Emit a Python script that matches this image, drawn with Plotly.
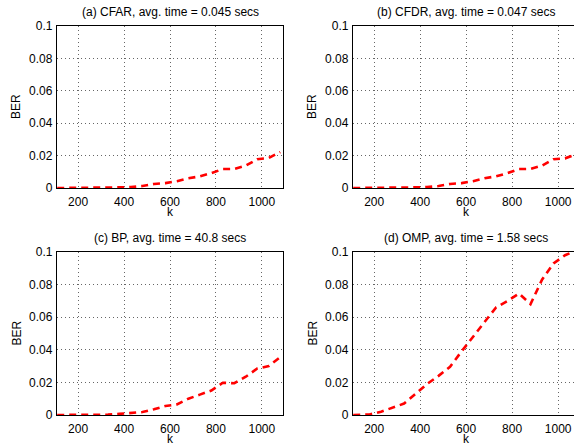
import plotly.graph_objects as go

k = [109, 130, 180, 230, 280, 330, 380, 430, 480, 530, 580, 630, 680, 730, 780, 830, 880, 930, 980, 1030, 1080]
ber_cfar = [0, 0, 0, 0, 0, 0.0002, 0.0004, 0.0006, 0.0012, 0.0025, 0.003, 0.0042, 0.006, 0.0072, 0.0092, 0.0117, 0.0118, 0.0138, 0.0178, 0.0185, 0.0222]
ber_cfdr = [0, 0, 0, 0, 0, 0.0002, 0.0004, 0.0006, 0.0012, 0.0025, 0.003, 0.0042, 0.006, 0.0072, 0.0092, 0.0117, 0.0118, 0.0138, 0.0178, 0.0183, 0.0208]
ber_bp = [0, 0, 0, 0, 0, 0.0002, 0.0007, 0.0012, 0.0018, 0.0035, 0.0055, 0.0065, 0.01, 0.0125, 0.015, 0.0198, 0.0195, 0.0235, 0.0285, 0.03, 0.0355]
ber_omp = [0, 0, 0.0003, 0.002, 0.0045, 0.007, 0.013, 0.019, 0.024, 0.0296, 0.039, 0.048, 0.057, 0.066, 0.070, 0.0745, 0.068, 0.083, 0.093, 0.098, 0.101]

titles = ["(a) CFAR, avg. time = 0.045 secs", "(b) CFDR, avg. time = 0.047 secs",
          "(c) BP, avg. time = 40.8 secs", "(d) OMP, avg. time = 1.58 secs"]
series = [ber_cfar, ber_cfdr, ber_bp, ber_omp]
x_ticks = [200, 400, 600, 800, 1000]
y_ticks = [0, 0.02, 0.04, 0.06, 0.08, 0.1]
y_tick_text = ["0", "0.02", "0.04", "0.06", "0.08", "0.1"]

W, H = 574, 444
FONT = "Liberation Sans, Arial, Helvetica, sans-serif"

# panel pixel boxes: (left, right, top, bottom)
boxes = [(57, 283, 26, 188), (353, 574, 26, 188), (57, 283, 252, 415), (353, 574, 252, 415)]
xranges = [[108, 1092], [108, 1069], [108, 1092], [108, 1069]]

fig = go.Figure()
annotations = []
for i in range(4):
    l, r, t, b = boxes[i]
    xa = "x" if i == 0 else f"x{i+1}"
    ya = "y" if i == 0 else f"y{i+1}"
    fig.add_trace(go.Scatter(x=k, y=series[i], mode="lines", xaxis=xa, yaxis=ya,
                             line=dict(color="#ff0000", width=2.6, dash="7px,5px"),
                             showlegend=False, hoverinfo="skip"))
    right_side = (i % 2 == 1)
    xkey = "xaxis" if i == 0 else f"xaxis{i+1}"
    ykey = "yaxis" if i == 0 else f"yaxis{i+1}"
    fig.layout[xkey] = dict(domain=[l / W, r / W], range=xranges[i], anchor=ya,
                            tickvals=x_ticks, ticks="", showline=True, mirror=True,
                            linecolor="black", linewidth=1.3, showgrid=True,
                            gridcolor="#666", gridwidth=1, griddash="1px,3px",
                            automargin=False, ticklabelstandoff=2,
                            zeroline=False, tickfont=dict(family=FONT, size=12, color="black"))
    fig.layout[ykey] = dict(domain=[1 - b / H, 1 - t / H], range=[0, 0.1], anchor=xa,
                            tickvals=y_ticks, ticktext=y_tick_text, ticks="",
                            showline=True, mirror=(not right_side),
                            linecolor="black", linewidth=1.3, showgrid=True,
                            gridcolor="#666", gridwidth=1, griddash="1px,3px",
                            automargin=False, ticklabelstandoff=1,
                            zeroline=False, tickfont=dict(family=FONT, size=12, color="black"))
    cx = (l + (r if not right_side else 579)) / 2
    annotations.append(dict(text=titles[i], x=cx / W, y=1 - (t - 14) / H, xref="paper", yref="paper",
                            xanchor="center", yanchor="middle", showarrow=False,
                            font=dict(family=FONT, size=12, color="black")))
    annotations.append(dict(text="k", x=cx / W, y=1 - (b + 24) / H, xref="paper", yref="paper",
                            xanchor="center", yanchor="middle", showarrow=False,
                            font=dict(family=FONT, size=12, color="black")))
    annotations.append(dict(text="BER", x=(l - 41) / W, y=1 - ((t + b) / 2) / H, xref="paper", yref="paper",
                            xanchor="center", yanchor="middle", showarrow=False, textangle=-90,
                            font=dict(family=FONT, size=12, color="black")))

fig.update_layout(width=W, height=H, margin=dict(l=0, r=0, t=0, b=0, autoexpand=False),
                  paper_bgcolor="white", plot_bgcolor="white", annotations=annotations,
                  font=dict(family=FONT, size=12, color="black"))
fig.write_html("out.html", config={"displayModeBar": False},
               post_script="document.body.style.margin='0px';document.body.style.overflow='hidden';")
